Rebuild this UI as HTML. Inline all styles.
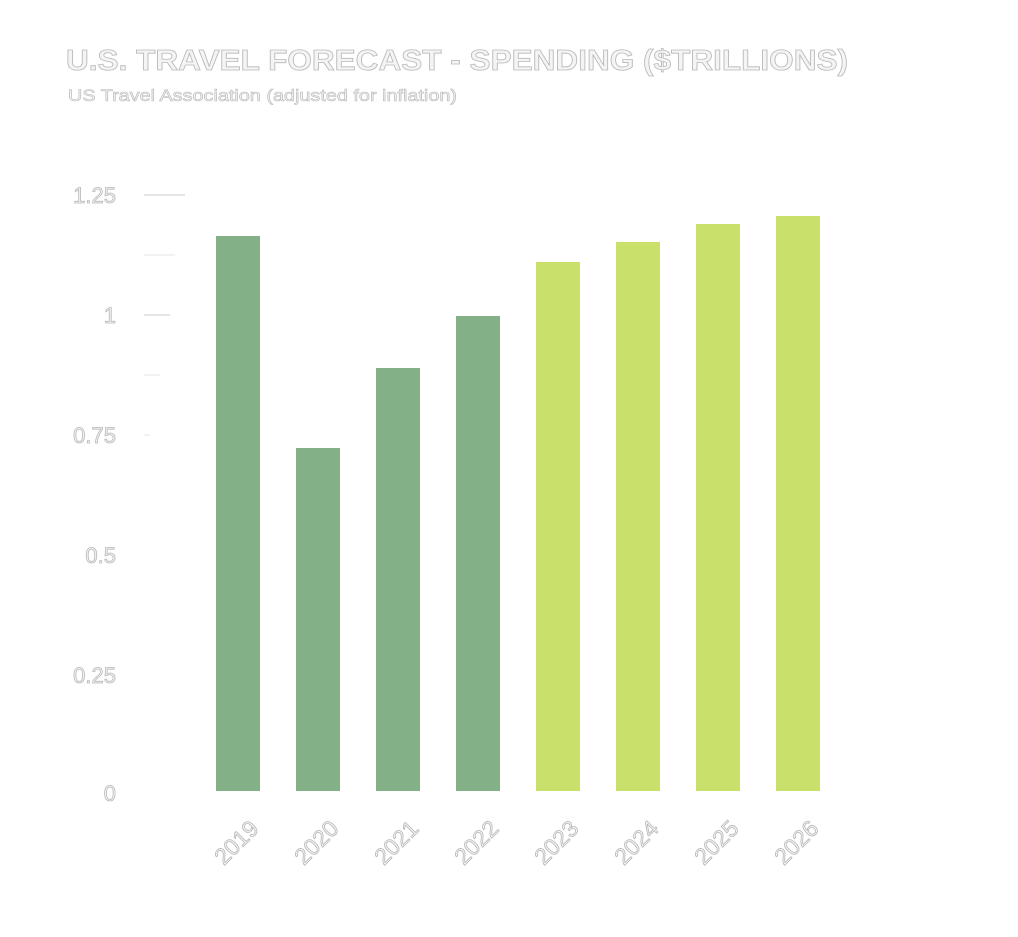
<!DOCTYPE html>
<html><head><style>
body{margin:0;background:#fff;}
svg text{font-family:"Liberation Sans",sans-serif;fill:#f4f4f4;stroke:#b8b8b8;stroke-width:0.8px;}
</style></head><body>
<svg width="1018" height="932" xmlns="http://www.w3.org/2000/svg">
<text x="66" y="70" font-size="29" font-weight="bold" textLength="782" lengthAdjust="spacingAndGlyphs">U.S. TRAVEL FORECAST - SPENDING ($TRILLIONS)</text>
<text x="68" y="101" font-size="17" style="stroke-width:0.6px" textLength="389" lengthAdjust="spacingAndGlyphs">US Travel Association (adjusted for inflation)</text>
<g font-size="22" text-anchor="end">
<text x="116" y="203">1.25</text>
<text x="116" y="323">1</text>
<text x="116" y="443">0.75</text>
<text x="116" y="563">0.5</text>
<text x="116" y="683">0.25</text>
<text x="116" y="801">0</text>
</g>
<g stroke="#e4e4e4" stroke-width="1">
<line x1="144" y1="195" x2="185" y2="195" stroke="#ccc"/>
<line x1="144" y1="255" x2="175" y2="255"/>
<line x1="144" y1="315" x2="170" y2="315" stroke="#ccc"/>
<line x1="144" y1="375" x2="160" y2="375"/>
<line x1="144" y1="435" x2="150" y2="435"/>
</g>
<g fill="#84b087">
<rect x="216" y="236" width="44" height="555"/>
<rect x="296" y="448" width="44" height="343"/>
<rect x="376" y="368" width="44" height="423"/>
<rect x="456" y="316" width="44" height="475"/>
</g>
<g fill="#c9e06a">
<rect x="536" y="262" width="44" height="529"/>
<rect x="616" y="242" width="44" height="549"/>
<rect x="696" y="224" width="44" height="567"/>
<rect x="776" y="216" width="44" height="575"/>
</g>
<g font-size="23" text-anchor="end" style="font-family:'Liberation Serif',serif">
<text transform="translate(260,830) rotate(-45)">2019</text>
<text transform="translate(340,830) rotate(-45)">2020</text>
<text transform="translate(420,830) rotate(-45)">2021</text>
<text transform="translate(500,830) rotate(-45)">2022</text>
<text transform="translate(580,830) rotate(-45)">2023</text>
<text transform="translate(660,830) rotate(-45)">2024</text>
<text transform="translate(740,830) rotate(-45)">2025</text>
<text transform="translate(820,830) rotate(-45)">2026</text>
</g>
</svg>
</body></html>
